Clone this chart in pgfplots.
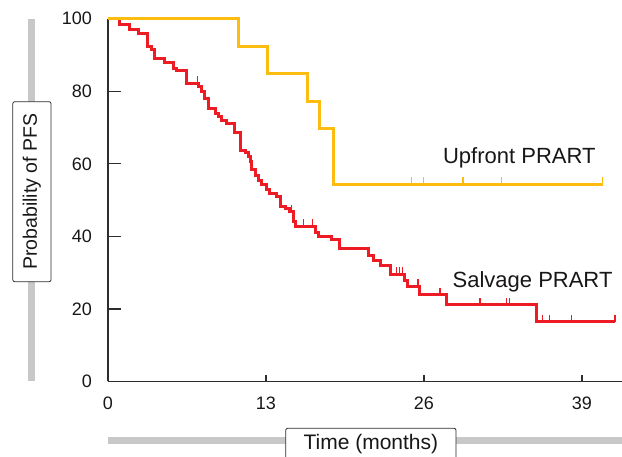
\documentclass[border=0pt]{standalone}
\usepackage{pgfplots}
\pgfplotsset{compat=1.18}
\usepackage{fontspec}
\setmainfont{Liberation Sans}
\definecolor{kmred}{RGB}{237,28,36}
\definecolor{kmyel}{RGB}{253,189,16}
\definecolor{bargray}{RGB}{200,200,200}
\definecolor{axgray}{RGB}{45,45,45}
\definecolor{txt}{RGB}{25,22,23}
\pgfdeclareplotmark{cens}{%
  \pgfpathmoveto{\pgfpointorigin}%
  \pgfpathlineto{\pgfqpoint{0pt}{\pgfplotmarksize}}%
  \pgfusepathqstroke}
\begin{document}
\begin{tikzpicture}
\useasboundingbox (0,0) rectangle (622pt,457pt);
% y label bar and box
\draw[bargray, line width=6.7pt] (31.7pt,437.7pt) -- (31.7pt,76.3pt);
\node[draw=axgray, fill=white, rounded corners=2pt, line width=0.8pt, rotate=90,
      minimum width=180pt, minimum height=38.3pt, inner sep=0pt, text=txt,
      font=\fontsize{19.5}{22}\selectfont] at (31.9pt,265.3pt) {Probability of PFS};
% x label bar and box
\draw[bargray, line width=7.3pt] (108pt,16.7pt) -- (622pt,16.7pt);
\draw[axgray, fill=white, rounded corners=2pt, line width=0.8pt] (285.7pt,-10pt) rectangle (456pt,28.7pt);
\node[anchor=base, inner sep=0pt, text=txt, font=\fontsize{21}{24}\selectfont] at (370.9pt,7pt) {Time (months)};
% y-axis tick marks (13.3pt long, pointing into the plot), at 20,40,...,100
\foreach \yy in {148.06,220.62,293.18,365.74,437.6}{
  \draw[axgray, line width=1.3pt] (108pt,\yy pt) -- (121.3pt,\yy pt);
}
\begin{axis}[
  at={(108pt,75.5pt)}, anchor=south west,
  width=514pt, height=362.8pt, scale only axis,
  xmin=0, xmax=42.3, ymin=0, ymax=100,
  axis x line*=bottom, axis y line*=left,
  axis line style={axgray, line width=1.3pt, -},
  every inner x axis line/.append style={-},
  every inner y axis line/.append style={-},
  every outer x axis line/.append style={-},
  every outer y axis line/.append style={-},
  xtick={0,13,26,39}, ytick={0,20,40,60,80,100},
  tick align=inside,
  major tick length=6.7pt,
  tick style={axgray, line width=1.2pt},
  /pgf/number format/assume math mode=true,
  xticklabel style={anchor=north, inner sep=0pt, yshift=-15pt, text=txt, font=\fontsize{18}{20}\selectfont},
  yticklabel style={anchor=east, inner sep=0pt, xshift=-16pt, text=txt, font=\fontsize{18}{20}\selectfont},
  clip=false,
]
\addplot[kmred, line width=3pt, const plot, mark=none] coordinates {
(0,100) (0.91,98.3) (1.81,97.0) (2.49,96.0) (3.27,92.3) (3.60,91.4) (3.79,89.1)
(4.69,87.8) (5.37,86.4) (5.60,85.6) (6.42,82.2) (7.45,81.3) (7.71,79.9) (7.98,78.1)
(8.25,75.3) (8.81,73.8) (9.08,73.0) (9.36,71.9) (9.77,71.0) (10.45,68.6) (10.92,63.8)
(11.28,63.1) (11.55,62.0) (11.69,60.6) (11.83,58.3) (12.10,56.9) (12.37,55.5) (12.65,54.4)
(13.06,52.9) (13.33,51.8) (13.88,50.9) (14.16,48.3) (14.57,47.7) (14.95,46.8) (15.26,44.0)
(15.39,42.8) (17.04,41.2) (17.31,40.1) (18.41,39.2) (19.09,36.7) (21.42,34.8) (21.84,33.4)
(22.39,32.0) (23.21,29.6) (24.44,27.9) (24.63,26.2) (25.60,23.9) (27.88,21.1) (35.28,16.5)
(41.73,16.5)
};
\addplot[kmred, only marks, mark=cens, mark size=7pt, mark options={line width=1.3pt}] coordinates {
(7.38,82.2) (15.12,46.8) (16.07,42.8) (16.85,42.8) (23.76,29.6) (23.97,29.6) (24.26,29.6)
(25.50,26.2) (27.33,23.9) (30.62,21.1) (32.81,21.1) (33.03,21.1) (35.77,16.5) (36.32,16.5)
(38.16,16.5) (41.73,16.5)
};
\addplot[kmyel, line width=3pt, const plot, mark=none] coordinates {
(0,100) (10.78,92.3) (13.09,85.0) (16.38,77.3) (17.40,69.8) (18.57,54.4) (40.72,54.4)
};
\addplot[kmyel, only marks, mark=cens, mark size=7pt, mark options={line width=1.3pt}] coordinates {
(25.0,54.4) (25.99,54.4) (29.21,54.4) (32.41,54.4) (40.72,54.4)
};
\node[anchor=base, inner sep=0pt, text=txt, font=\fontsize{22}{24}\selectfont] at (axis cs:33.85,60.1) {Upfront PRART};
\node[anchor=base, inner sep=0pt, text=txt, font=\fontsize{22}{24}\selectfont] at (axis cs:34.94,26.0) {Salvage PRART};
\end{axis}
\end{tikzpicture}
\end{document}
